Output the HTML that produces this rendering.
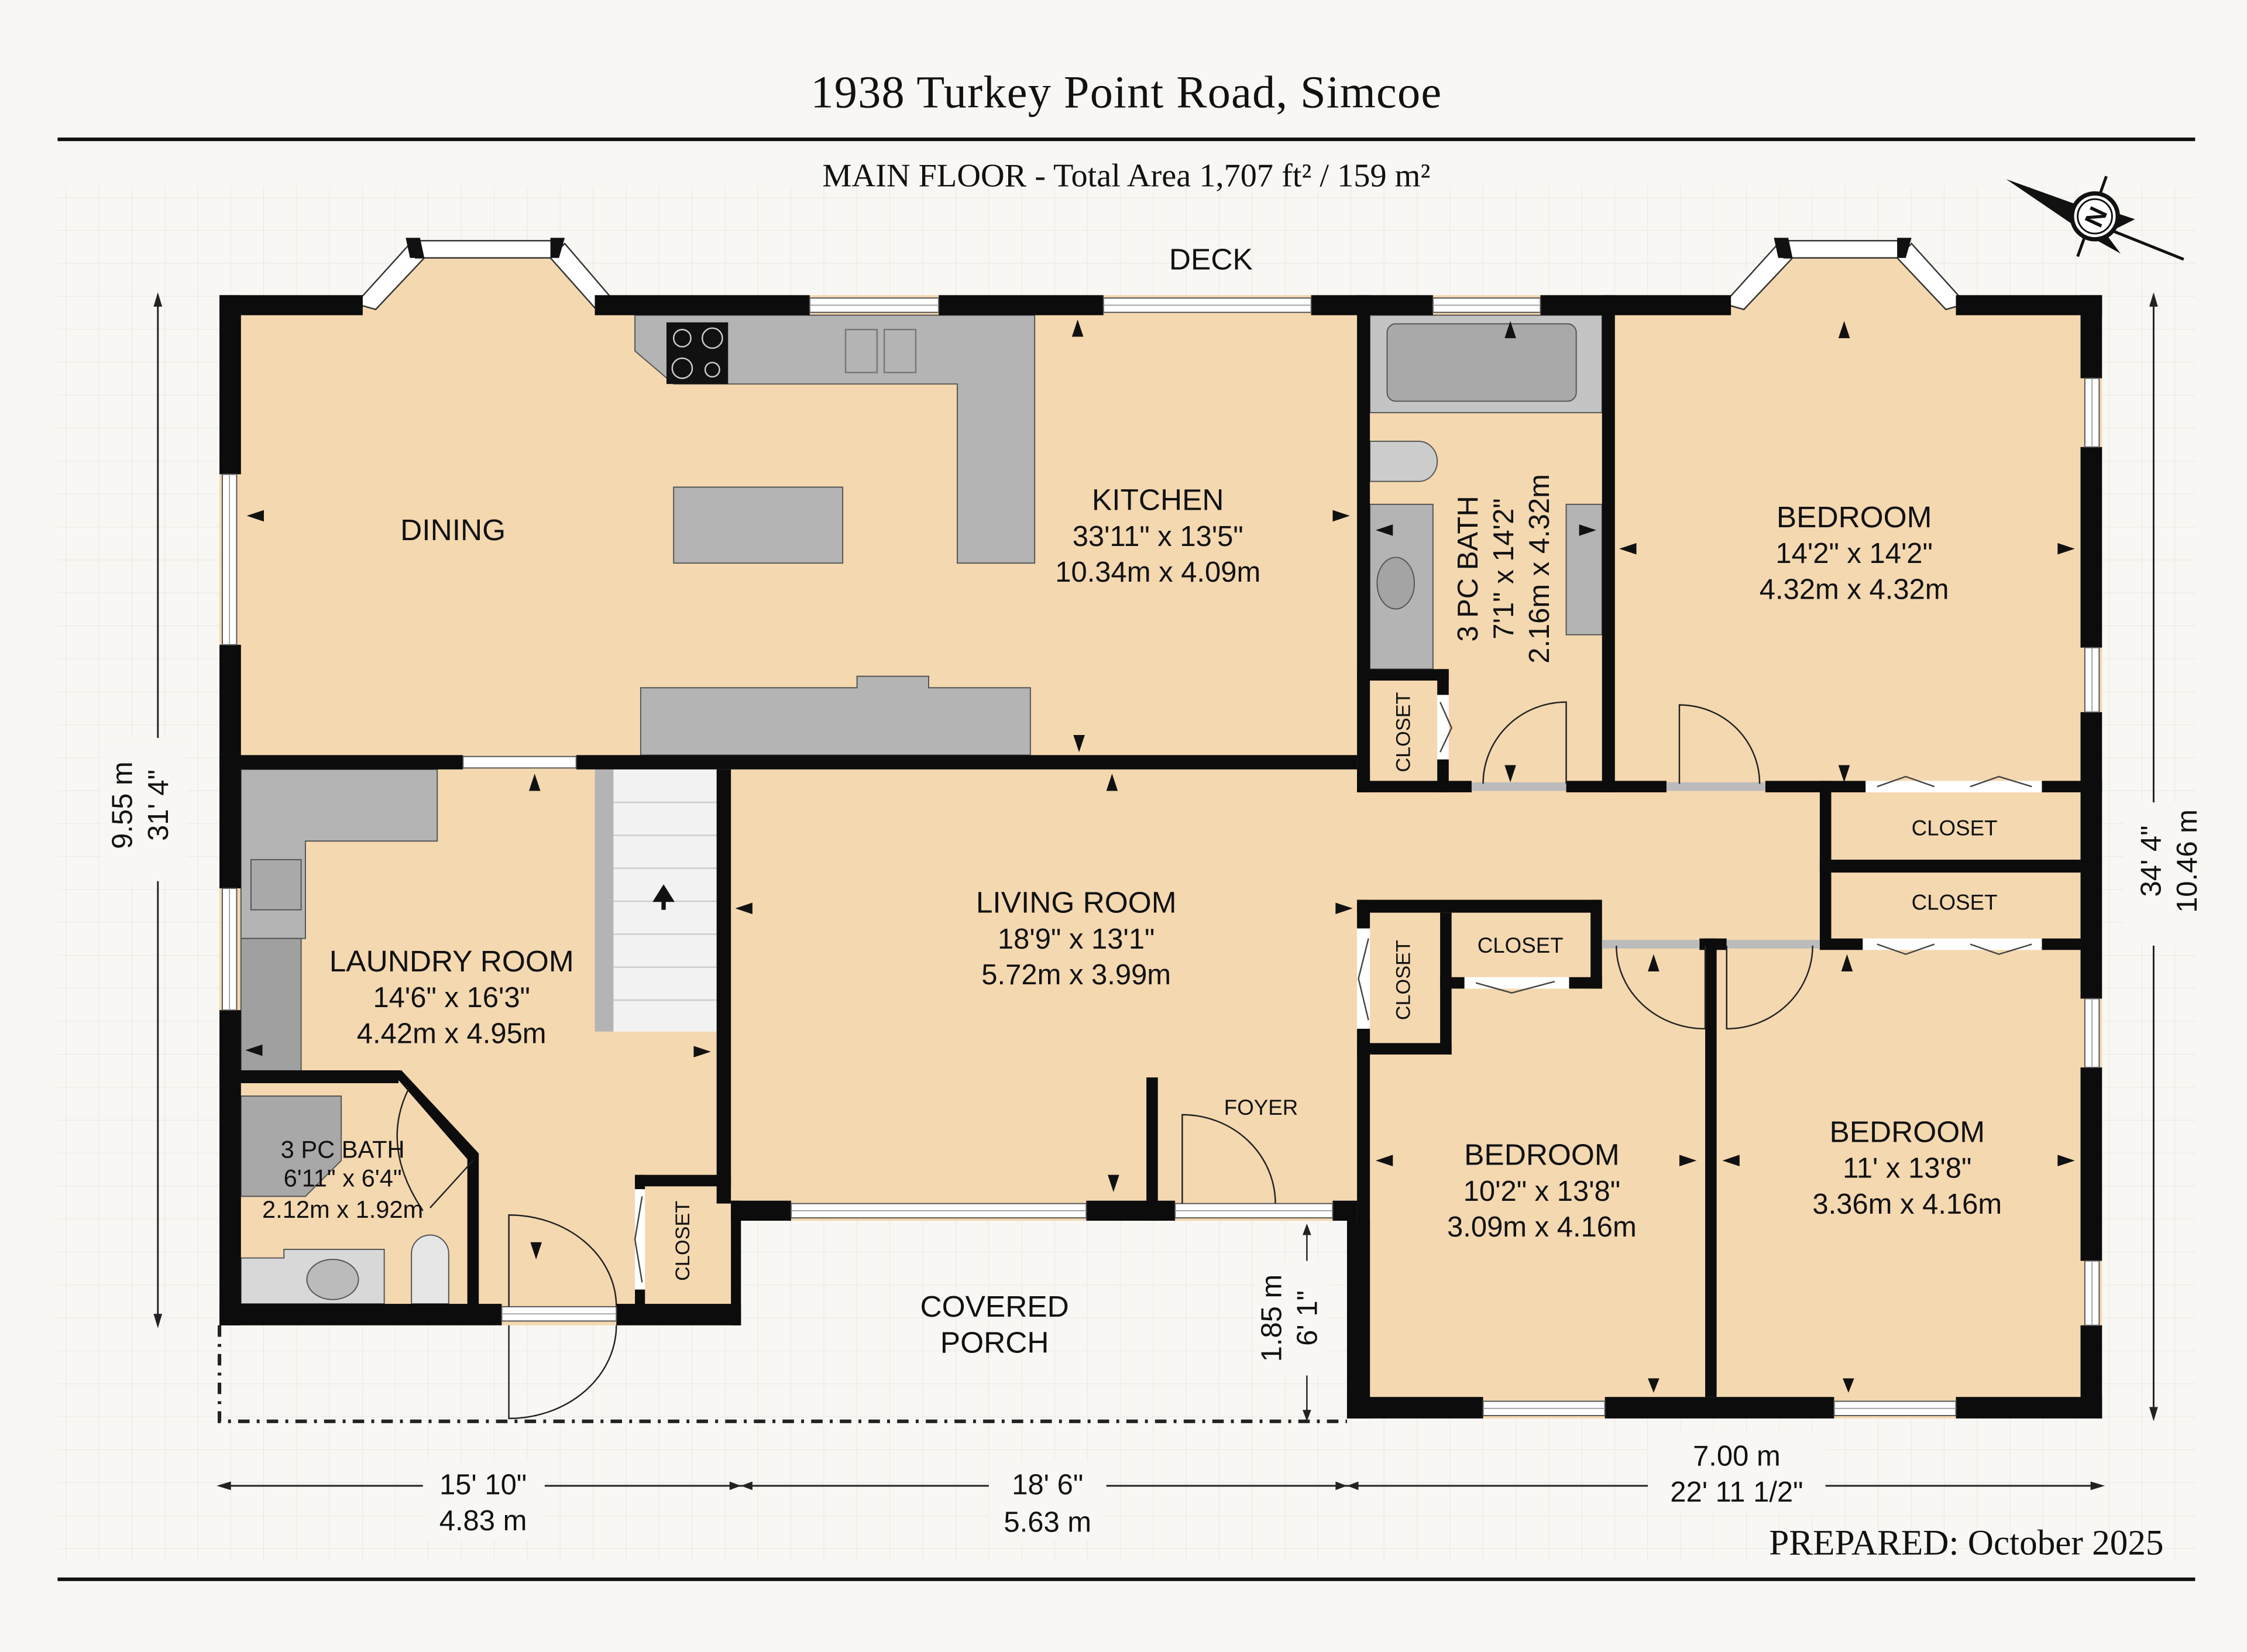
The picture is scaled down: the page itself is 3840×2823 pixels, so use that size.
<!DOCTYPE html>
<html><head><meta charset="utf-8"><style>
html,body{margin:0;padding:0;background:#f8f7f3;}
svg{display:block;}
.s{font-family:"Liberation Sans",sans-serif;fill:#111;text-anchor:middle;}
.r{font-family:"Liberation Serif",serif;fill:#111;text-anchor:middle;}
</style></head><body>
<svg width="3840" height="2823" viewBox="0 0 1568 1153" xmlns="http://www.w3.org/2000/svg">
<defs>
<pattern id="g" width="23" height="23" patternUnits="userSpaceOnUse" x="0" y="0">
<path d="M23 0V23M0 23H23" stroke="#e8e6e1" stroke-width="0.7" fill="none"/>
</pattern>
</defs>
<rect width="1568" height="1153" fill="#f8f7f3"/>
<rect x="40" y="130" width="1492" height="960" fill="url(#g)"/>

<text class="r" x="786" y="75" font-size="32" letter-spacing="0.5">1938 Turkey Point Road, Simcoe</text>
<rect x="40" y="96" width="1492" height="2.5" fill="#111"/>
<text class="r" x="786" y="130" font-size="23">MAIN FLOOR - Total Area 1,707 ft² / 159 m²</text>
<rect x="40" y="1101" width="1492" height="2.5" fill="#111"/>
<text class="r" x="1510" y="1085" font-size="25" style="text-anchor:end">PREPARED: October 2025</text>
<text class="s" x="845" y="188" font-size="21">DECK</text>

<g transform="translate(1462,151)">
<polygon points="-62,-26 -12,-8 -12,8" fill="#111"/>
<polygon points="10,-4 28,2 12,10" fill="#111"/>
<polygon points="6,10 18,26 0,16" fill="#111"/>
<line x1="12" y1="10" x2="62" y2="30" stroke="#111" stroke-width="2"/>
<line x1="-12" y1="28" x2="8" y2="-28" stroke="#111" stroke-width="2"/>
<circle cx="0" cy="0" r="16" fill="#fff" stroke="#111" stroke-width="3"/>
<circle cx="0" cy="0" r="12" fill="none" stroke="#111" stroke-width="1.2"/>
<text class="s" x="0" y="7" font-size="18" font-weight="bold" transform="rotate(-65)">N</text>
</g>

<polygon points="153,206 1467,206 1467,990 940,990 940,852 517,852 517,925 153,925" fill="#f4d8b0"/>
<polygon points="250,215 290,172 390,172 425,215" fill="#f4d8b0"/>
<polygon points="1205,215 1245,172 1330,172 1368,215" fill="#f4d8b0"/>

<g fill="#fff" stroke="#333" stroke-width="1">
<polygon points="248,212 286,170 296,180 262,216"/>
<rect x="290" y="168" width="100" height="12"/>
<polygon points="384,180 394,170 430,212 416,216"/>
<polygon points="1203,212 1241,170 1251,180 1217,216"/>
<rect x="1245" y="168" width="85" height="12"/>
<polygon points="1324,180 1334,170 1372,212 1358,216"/>
</g>
<g fill="#111">
<polygon points="283,166 293,166 296,180 286,180"/><polygon points="384,166 394,166 390,180 384,180"/>
<polygon points="1238,166 1248,166 1251,180 1241,180"/><polygon points="1324,166 1334,166 1330,180 1324,180"/>
</g>

<g fill="#b4b4b4" stroke="#555" stroke-width="0.8">
<polygon points="443,220 722,220 722,393 668,393 668,268 470,268 443,245"/>
<rect x="470" y="340" width="118" height="53"/>
<polygon points="447,480 598,480 598,472 648,472 648,480 719,480 719,527 447,527"/>
<rect x="956" y="220" width="162" height="68" fill="#c4c4c4"/>
<rect x="968" y="226" width="132" height="54" rx="6" fill="#a9a9a9"/>
<rect x="956" y="352" width="44" height="115"/>
<rect x="1093" y="352" width="25" height="91"/>
<path d="M956,308 H990 A13,14 0 0 1 990,336 H956 Z" fill="#ccc"/>
<ellipse cx="974" cy="407" rx="13" ry="18" fill="#a4a4a4"/>
<polygon points="168,537 305,537 305,587 213,587 213,655 168,655"/>
<rect x="175" y="600" width="35" height="35" fill="#a9a9a9"/>
<rect x="168" y="655" width="42" height="93" fill="#a0a0a0"/>
<polygon points="168,765 238,765 238,810 213,835 168,835" fill="#a8a8a8"/>
<polygon points="168,878 198,878 198,872 268,872 268,910 168,910" fill="#d8d8d8"/>
<ellipse cx="232" cy="893" rx="18" ry="14" fill="#bbb"/>
<path d="M287,910 V875 A13,13 0 0 1 313,875 V910 Z" fill="#e6e6e6"/>
</g>
<rect x="465" y="225" width="43" height="43" fill="#111"/>
<g fill="none" stroke="#ccc" stroke-width="1"><circle cx="476" cy="236" r="6"/><circle cx="497" cy="236" r="7"/><circle cx="476" cy="257" r="7"/><circle cx="497" cy="258" r="5"/></g>
<rect x="590" y="230" width="22" height="30" fill="none" stroke="#777"/><rect x="617" y="230" width="22" height="30" fill="none" stroke="#777"/>

<rect x="415" y="537" width="85" height="183" fill="#f2f2f2"/>
<rect x="415" y="537" width="13" height="183" fill="#b4b4b4"/>
<g stroke="#ccc" stroke-width="1">
<line x1="428" y1="560" x2="500" y2="560"/><line x1="428" y1="583" x2="500" y2="583"/><line x1="428" y1="606" x2="500" y2="606"/><line x1="428" y1="629" x2="500" y2="629"/><line x1="428" y1="652" x2="500" y2="652"/><line x1="428" y1="675" x2="500" y2="675"/><line x1="428" y1="698" x2="500" y2="698"/>
</g>
<path d="M463,635 V624 M458,628 L463,620 L468,628 Z" stroke="#111" stroke-width="3" fill="#111"/>

<g fill="#0c0c0c">
<rect x="153" y="206" width="100" height="14"/><rect x="415" y="206" width="150" height="14"/><rect x="655" y="206" width="115" height="14"/><rect x="915" y="206" width="85" height="14"/><rect x="1075" y="206" width="133" height="14"/><rect x="1365" y="206" width="102" height="14"/>
<rect x="153" y="206" width="15" height="125"/><rect x="153" y="450" width="15" height="170"/><rect x="153" y="705" width="15" height="220"/>
<rect x="1452" y="206" width="15" height="58"/><rect x="1452" y="312" width="15" height="140"/><rect x="1452" y="497" width="15" height="200"/><rect x="1452" y="745" width="15" height="135"/><rect x="1452" y="925" width="15" height="65"/>
<rect x="940" y="975" width="95" height="15"/><rect x="1120" y="975" width="160" height="15"/><rect x="1365" y="975" width="102" height="15"/>
<rect x="153" y="527" width="170" height="10"/><rect x="402" y="527" width="545" height="10"/>
<rect x="947" y="206" width="9" height="347"/><rect x="1118" y="206" width="9" height="347"/>
<rect x="947" y="467" width="64" height="8"/><rect x="1003" y="467" width="8" height="18"/><rect x="1003" y="530" width="8" height="23"/>
<rect x="947" y="545" width="80" height="8"/><rect x="1093" y="545" width="70" height="8"/><rect x="1232" y="545" width="70" height="8"/><rect x="1425" y="545" width="42" height="8"/>
<rect x="1270" y="545" width="8" height="117"/><rect x="1270" y="600" width="182" height="9"/>
<rect x="1270" y="655" width="30" height="8"/><rect x="1425" y="655" width="27" height="8"/>
<rect x="1186" y="655" width="19" height="8"/>
<rect x="947" y="628" width="170" height="9"/><rect x="1110" y="628" width="8" height="62"/><rect x="1095" y="682" width="23" height="8"/><rect x="1005" y="682" width="17" height="8"/>
<rect x="1005" y="637" width="8" height="99"/><rect x="947" y="728" width="66" height="8"/>
<rect x="947" y="628" width="9" height="20"/><rect x="947" y="718" width="9" height="272"/>
<rect x="940" y="852" width="16" height="138"/>
<rect x="1190" y="655" width="8" height="320"/>
<rect x="510" y="838" width="42" height="14"/><rect x="758" y="838" width="62" height="14"/><rect x="930" y="838" width="17" height="14"/>
<rect x="800" y="752" width="8" height="100"/>
<rect x="500" y="537" width="10" height="303"/><rect x="510" y="838" width="7" height="87"/>
<rect x="153" y="747" width="125" height="9"/><rect x="326" y="805" width="8" height="110"/>
<polygon points="272,747 280,747 334,805 326,809"/>
<rect x="153" y="910" width="197" height="15"/><rect x="430" y="910" width="87" height="15"/>
<rect x="443" y="820" width="67" height="8"/><rect x="443" y="820" width="7" height="10"/><rect x="443" y="900" width="7" height="12"/>
<rect x="947" y="537" width="9" height="16"/>
</g>

<g fill="#fff" stroke="#555" stroke-width="0.8">
<rect x="565" y="208" width="90" height="10"/><rect x="770" y="208" width="145" height="10"/><rect x="1000" y="208" width="75" height="10"/>
<rect x="155" y="331" width="10" height="119"/><rect x="155" y="620" width="10" height="85"/>
<rect x="1455" y="264" width="10" height="48"/><rect x="1455" y="452" width="10" height="45"/><rect x="1455" y="697" width="10" height="48"/><rect x="1455" y="880" width="10" height="45"/>
<rect x="1035" y="978" width="85" height="10"/><rect x="1280" y="978" width="85" height="10"/>
<rect x="323" y="528" width="79" height="8"/>
<rect x="552" y="840" width="206" height="10"/><rect x="820" y="840" width="110" height="10"/>
<rect x="350" y="912" width="80" height="10"/>
</g>
<g stroke="#999" stroke-width="0.7">
<line x1="565" y1="213" x2="655" y2="213"/><line x1="770" y1="213" x2="915" y2="213"/><line x1="1000" y1="213" x2="1075" y2="213"/>
<line x1="160" y1="331" x2="160" y2="450"/><line x1="160" y1="620" x2="160" y2="705"/>
<line x1="1460" y1="264" x2="1460" y2="312"/><line x1="1460" y1="452" x2="1460" y2="497"/><line x1="1460" y1="697" x2="1460" y2="745"/><line x1="1460" y1="880" x2="1460" y2="925"/>
<line x1="1035" y1="983" x2="1120" y2="983"/><line x1="1280" y1="983" x2="1365" y2="983"/>
<line x1="552" y1="845" x2="758" y2="845"/><line x1="820" y1="845" x2="930" y2="845"/><line x1="350" y1="917" x2="430" y2="917"/>
</g>
<g fill="#bbb"><rect x="1027" y="546" width="66" height="6"/><rect x="1163" y="546" width="69" height="6"/><rect x="1118" y="656" width="68" height="6"/><rect x="1205" y="656" width="65" height="6"/></g>
<g fill="#fff"><rect x="1302" y="545" width="123" height="8"/><rect x="1300" y="655" width="125" height="8"/><rect x="1022" y="682" width="73" height="8"/><rect x="947" y="648" width="9" height="70"/><rect x="1003" y="485" width="8" height="45"/><rect x="443" y="830" width="7" height="70"/></g>
<g fill="none" stroke="#444" stroke-width="1">
<path d="M1310,549 L1330,542 L1350,549 M1375,549 L1395,542 L1418,549"/>
<path d="M1310,659 L1330,666 L1350,659 M1375,659 L1395,666 L1418,659"/>
<path d="M1030,686 L1055,693 L1085,685"/>
<path d="M955,655 L948,683 L955,712"/>
<path d="M1005,490 L1013,508 L1005,525"/>
<path d="M448,835 L443,865 L448,895"/>
</g>
<g fill="none" stroke="#222" stroke-width="1">
<path d="M1093,547 V490 A58,57 0 0 0 1035,547"/>
<path d="M1172,547 V492 A56,55 0 0 1 1228,547"/>
<path d="M1190,660 V718 A62,58 0 0 1 1128,660"/>
<path d="M1205,660 V718 A60,58 0 0 0 1265,660"/>
<path d="M825,840 V778 A65,62 0 0 1 890,840"/>
<path d="M355,912 V848 A75,64 0 0 1 430,912"/>
<path d="M355,925 V990 A75,65 0 0 0 430,925"/>
<path d="M285,760 Q265,800 295,845 M330,810 L300,843"/>
</g>

<path d="M153,925 V992 H940" fill="none" stroke="#222" stroke-width="2.5" stroke-dasharray="8,5,2,5"/>
<line x1="912" y1="856" x2="912" y2="990" stroke="#222" stroke-width="1"/>
<polygon points="909,862 912,854 915,862" fill="#222"/><polygon points="909,984 912,992 915,984" fill="#222"/>
<rect x="876" y="880" width="52" height="80" fill="#f8f7f3"/>
<text class="s" font-size="20" transform="translate(894,920) rotate(-90)">1.85 m</text>
<text class="s" font-size="20" transform="translate(919,920) rotate(-90)">6' 1"</text>

<g stroke="#222" stroke-width="1.2">
<line x1="110" y1="206" x2="110" y2="925"/>
<line x1="1503" y1="206" x2="1503" y2="990"/>
<line x1="153" y1="1037" x2="1467" y2="1037"/>
</g>
<g fill="#222">
<polygon points="107,214 110,204 113,214"/><polygon points="107,917 110,927 113,917"/>
<polygon points="1500,214 1503,204 1506,214"/><polygon points="1500,982 1503,992 1506,982"/>
<polygon points="161,1034 151,1037 161,1040"/><polygon points="1459,1034 1469,1037 1459,1040"/>
<polygon points="509,1034 517,1037 509,1040"/><polygon points="525,1034 517,1037 525,1040"/>
<polygon points="932,1034 940,1037 932,1040"/><polygon points="948,1034 940,1037 948,1040"/>
</g>
<rect x="70" y="515" width="60" height="100" fill="#f8f7f3"/>
<text class="s" font-size="20" transform="translate(92,562) rotate(-90)">9.55 m</text>
<text class="s" font-size="20" transform="translate(117,562) rotate(-90)">31' 4"</text>
<rect x="1482" y="560" width="56" height="100" fill="#f8f7f3"/>
<text class="s" font-size="20" transform="translate(1508,601) rotate(-90)">34' 4"</text>
<text class="s" font-size="20" transform="translate(1533,601) rotate(-90)">10.46 m</text>
<rect x="295" y="1020" width="85" height="55" fill="#f8f7f3"/>
<text class="s" font-size="20" x="337" y="1043">15' 10"</text>
<text class="s" font-size="20" x="337" y="1068">4.83 m</text>
<rect x="690" y="1020" width="82" height="55" fill="#f8f7f3"/>
<text class="s" font-size="20" x="731" y="1043">18' 6"</text>
<text class="s" font-size="20" x="731" y="1069">5.63 m</text>
<rect x="1150" y="1000" width="124" height="55" fill="#f8f7f3"/>
<text class="s" font-size="20" x="1212" y="1023">7.00 m</text>
<text class="s" font-size="20" x="1212" y="1048">22' 11 1/2"</text>

<g fill="#111">
<polygon points="748,235 752,223 756,235"/><polygon points="749,513 753,525 757,513"/>
<polygon points="172,360 184,356 184,364"/><polygon points="930,356 942,360 930,364"/>
<polygon points="1050,236 1054,224 1058,236"/><polygon points="1283,236 1287,224 1291,236"/>
<polygon points="1130,383 1142,379 1142,387"/><polygon points="1448,383 1436,379 1436,387"/>
<polygon points="960,370 972,366 972,374"/><polygon points="1114,370 1102,366 1102,374"/>
<polygon points="1050,534 1054,546 1058,534"/><polygon points="1283,534 1287,546 1291,534"/>
<polygon points="369,552 373,540 377,552"/><polygon points="772,552 776,540 780,552"/>
<polygon points="513,634 525,630 525,638"/><polygon points="932,630 944,634 932,638"/>
<polygon points="171,733 183,729 183,737"/><polygon points="484,730 496,734 484,738"/>
<polygon points="773,820 777,832 781,820"/><polygon points="370,867 374,879 378,867"/>
<polygon points="1150,678 1154,666 1158,678"/><polygon points="1285,678 1289,666 1293,678"/>
<polygon points="960,810 972,806 972,814"/><polygon points="1184,810 1172,806 1172,814"/>
<polygon points="1202,810 1214,806 1214,814"/><polygon points="1448,810 1436,806 1436,814"/>
<polygon points="1150,962 1154,972 1158,962"/><polygon points="1286,962 1290,972 1294,962"/>
</g>

<g>
<text class="s" x="316" y="377" font-size="21">DINING</text>
<text class="s" x="808" y="356" font-size="21">KITCHEN</text>
<text class="s" x="808" y="381" font-size="20">33'11" x 13'5"</text>
<text class="s" x="808" y="406" font-size="20">10.34m x 4.09m</text>
<text class="s" x="1294" y="368" font-size="21">BEDROOM</text>
<text class="s" x="1294" y="393" font-size="20">14'2" x 14'2"</text>
<text class="s" x="1294" y="418" font-size="20">4.32m x 4.32m</text>
<text class="s" font-size="20" transform="translate(1031,397) rotate(-90)">3 PC BATH</text>
<text class="s" font-size="20" transform="translate(1056,397) rotate(-90)">7'1" x 14'2"</text>
<text class="s" font-size="20" transform="translate(1081,397) rotate(-90)">2.16m x 4.32m</text>
<text class="s" font-size="14" transform="translate(984,511) rotate(-90)">CLOSET</text>
<text class="s" x="1364" y="583" font-size="15">CLOSET</text>
<text class="s" x="1364" y="635" font-size="15">CLOSET</text>
<text class="s" x="1061" y="665" font-size="15">CLOSET</text>
<text class="s" font-size="14" transform="translate(984,684) rotate(-90)">CLOSET</text>
<text class="s" font-size="14" transform="translate(481,866) rotate(-90)">CLOSET</text>
<text class="s" x="751" y="637" font-size="21">LIVING ROOM</text>
<text class="s" x="751" y="662" font-size="20">18'9" x 13'1"</text>
<text class="s" x="751" y="687" font-size="20">5.72m x 3.99m</text>
<text class="s" x="880" y="778" font-size="15">FOYER</text>
<text class="s" x="315" y="678" font-size="21">LAUNDRY ROOM</text>
<text class="s" x="315" y="703" font-size="20">14'6" x 16'3"</text>
<text class="s" x="315" y="728" font-size="20">4.42m x 4.95m</text>
<text class="s" x="239" y="808" font-size="17">3 PC BATH</text>
<text class="s" x="239" y="828" font-size="17">6'11" x 6'4"</text>
<text class="s" x="239" y="850" font-size="17">2.12m x 1.92m</text>
<text class="s" x="694" y="919" font-size="21">COVERED</text>
<text class="s" x="694" y="944" font-size="21">PORCH</text>
<text class="s" x="1076" y="813" font-size="21">BEDROOM</text>
<text class="s" x="1076" y="838" font-size="20">10'2" x 13'8"</text>
<text class="s" x="1076" y="863" font-size="20">3.09m x 4.16m</text>
<text class="s" x="1331" y="797" font-size="21">BEDROOM</text>
<text class="s" x="1331" y="822" font-size="20">11' x 13'8"</text>
<text class="s" x="1331" y="847" font-size="20">3.36m x 4.16m</text>
</g>
</svg>
</body></html>
